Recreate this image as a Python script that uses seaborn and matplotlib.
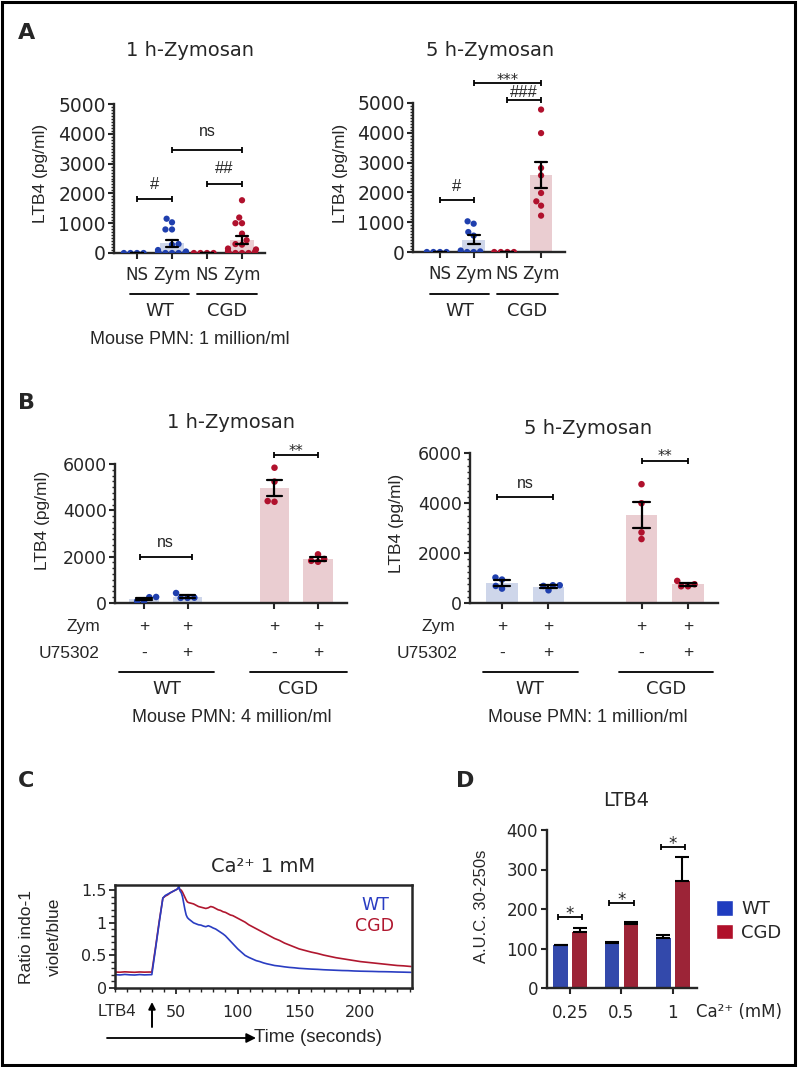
import warnings
warnings.filterwarnings("ignore")
import numpy as np
import pandas as pd
import matplotlib
matplotlib.use("Agg")
import matplotlib.pyplot as plt
import matplotlib.patches as mpatches
from matplotlib.ticker import MultipleLocator
import seaborn as sns

sns.set_style("ticks")
plt.rcParams["font.family"] = ["DejaVu Sans"]
SANS2 = ["Liberation Sans", "DejaVu Sans"]

# ---------------- data ----------------
# Panel A  (LTB4 pg/ml)  groups: WT-NS, WT-Zym, CGD-NS, CGD-Zym
a_labels = ["NS", "Zym", "NS", "Zym"]
a_geno = ["WT", "WT", "CGD", "CGD"]
a1h_wt_ns = [0, 0, 0, 0]
a1h_wt_zym = [1150, 1030, 790, 790, 300, 280, 100, 50, 20, 0, 0, 0, 0, 0]
a1h_cgd_ns = [0, 0, 0, 0]
a1h_cgd_zym = [1770, 1190, 1000, 1000, 650, 430, 300, 280, 150, 120, 60, 40, 0, 0, 0, 0]
a5h_wt_ns = [0, 0, 0, 0]
a5h_wt_zym = [1030, 950, 670, 550, 50, 20, 0, 0]
a5h_cgd_ns = [0, 0, 0, 0]
a5h_cgd_zym = [4780, 3990, 2820, 2570, 1980, 1700, 1555, 1220]

# Panel B
b_zym = ["+", "+", "+", "+"]
b_u75302 = ["-", "+", "-", "+"]
b_geno = ["WT", "WT", "CGD", "CGD"]
b1h_wt_minus = [260, 70, 80, 250]
b1h_wt_plus = [220, 220, 230, 430]
b1h_cgd_minus = [5840, 5240, 4370, 4400]
b1h_cgd_plus = [1900, 1780, 1820, 2100]
b5h_wt_minus = [1017, 937, 576, 683]
b5h_wt_plus = [710, 509, 683, 710]
b5h_cgd_minus = [4752, 3990, 2825, 2557]
b5h_cgd_plus = [750, 670, 670, 884]

# Panel C  (ratio indo-1 violet/blue vs time, s)
c_wt_time = [0, 4, 8, 12, 16, 20, 24, 28, 30, 33, 36, 39, 41, 43, 45, 47, 49, 50, 51, 52,
             53, 54, 55, 56, 57, 58, 59, 60, 62, 64, 66, 68, 70, 72, 74, 76, 78, 80, 82, 84,
             86, 88, 90, 92, 94, 96, 98, 100, 103, 106, 109, 112, 115, 118, 121, 124, 127,
             130, 134, 138, 142, 146, 150, 155, 160, 165, 170, 175, 180, 185, 190, 195, 200,
             205, 210, 215, 220, 225, 230, 235, 241]
c_wt_ratio = [0.205, 0.200, 0.208, 0.202, 0.199, 0.206, 0.201, 0.204, 0.205, 0.60, 1.00, 1.38,
              1.42, 1.44, 1.46, 1.48, 1.50, 1.51, 1.52, 1.57, 1.49, 1.46, 1.40, 1.30, 1.20,
              1.12, 1.08, 1.06, 1.03, 1.00, 0.985, 0.97, 0.965, 0.95, 0.94, 0.955, 0.94,
              0.92, 0.905, 0.88, 0.855, 0.83, 0.80, 0.76, 0.72, 0.68, 0.64, 0.60, 0.55, 0.50,
              0.47, 0.445, 0.42, 0.405, 0.385, 0.37, 0.358, 0.345, 0.336, 0.325, 0.316, 0.31,
              0.302, 0.296, 0.29, 0.286, 0.28, 0.276, 0.272, 0.268, 0.266, 0.261, 0.258,
              0.256, 0.254, 0.251, 0.25, 0.248, 0.245, 0.243, 0.24]
c_cgd_time = c_wt_time
c_cgd_ratio = [0.245, 0.242, 0.248, 0.244, 0.241, 0.246, 0.243, 0.245, 0.244, 0.62, 1.02, 1.38,
               1.41, 1.43, 1.46, 1.48, 1.50, 1.51, 1.52, 1.53, 1.51, 1.50, 1.47, 1.43, 1.39,
               1.35, 1.32, 1.31, 1.30, 1.29, 1.27, 1.25, 1.24, 1.23, 1.22, 1.23, 1.25, 1.24,
               1.22, 1.20, 1.19, 1.17, 1.16, 1.14, 1.12, 1.11, 1.09, 1.07, 1.04, 1.01, 0.97,
               0.94, 0.91, 0.88, 0.85, 0.82, 0.79, 0.76, 0.73, 0.69, 0.66, 0.63, 0.60, 0.575,
               0.55, 0.53, 0.505, 0.485, 0.465, 0.45, 0.435, 0.42, 0.405, 0.395, 0.385, 0.375,
               0.365, 0.355, 0.345, 0.34, 0.33]

# Panel D  (A.U.C. 30-250 s)
d_ca = ["0.25", "0.5", "1"]
d_wt_auc = [108, 115, 126]
d_wt_sem = [1.5, 1.5, 7]
d_cgd_auc = [143, 162, 270]
d_cgd_sem = [8, 6, 62]

# ---------------- style ----------------
DOT_BLUE, DOT_RED = "#1f3fae", "#b0112d"
BAR_BLUE, BAR_RED = "#c9d4ef", "#efc8cd"
C_BLUE, C_RED = "#2a3dc2", "#b0172f"
D_BLUE, D_RED = "#1f3cbf", "#b0102a"

W, H = 800, 1067
fig = plt.figure(figsize=(W / 100, H / 100), dpi=100)


def add_ax(x0, y0, x1, y1):
    a = fig.add_axes([x0 / W, 1 - y1 / H, (x1 - x0) / W, (y1 - y0) / H])
    a._pxbox = (x0, y0, x1, y1)
    return a


def yfrac(a, py):
    x0, y0, x1, y1 = a._pxbox
    return (y1 - py) / (y1 - y0)


def dotbar(ax, groups, positions, genos, dot=4.5):
    rows = []
    for vals, p, g in zip(groups, positions, genos):
        for v in vals:
            rows.append((p, g, v))
    df = pd.DataFrame(rows, columns=["pos", "geno", "val"])
    sns.barplot(data=df, x="pos", y="val", hue="geno", hue_order=["WT", "CGD"],
                palette={"WT": BAR_BLUE, "CGD": BAR_RED}, native_scale=True,
                width=0.67, errorbar="se", capsize=0.36,
                err_kws={"color": "black", "linewidth": 1.6},
                linewidth=0, legend=False, ax=ax)
    sns.swarmplot(data=df, x="pos", y="val", hue="geno", hue_order=["WT", "CGD"],
                  palette={"WT": DOT_BLUE, "CGD": DOT_RED}, native_scale=True,
                  size=dot, linewidth=0, legend=False, ax=ax, zorder=3)
    for ln in ax.lines:
        ln.set_zorder(4)
    ax.set_xlabel("")
    ax.set_ylabel("")


def bracket(ax, x0, x1, y, cap, label, ty, fs, family=None, dy=0.0):
    kw = dict(color="black", lw=1.3, clip_on=False, zorder=6, solid_capstyle="butt")
    ax.plot([x0, x1], [y, y], **kw)
    ax.plot([x0, x0], [y - cap, y + cap], **kw)
    ax.plot([x1, x1], [y - cap, y + cap], **kw)
    ax.annotate(label, xy=((x0 + x1) / 2, ty), xytext=(0, -dy), textcoords="offset points",
                ha="center", va="center", fontsize=fs, annotation_clip=False, zorder=6,
                family=family if family else "DejaVu Sans")


def style_dotbar(ax, xlim, ymax, ystep, minor, ylab_size):
    ax.set_xlim(*xlim)
    ax.set_ylim(0, ymax)
    ax.set_yticks(np.arange(0, ymax + 1, ystep))
    ax.yaxis.set_minor_locator(MultipleLocator(minor))
    sns.despine(ax=ax)
    for s in ["left", "bottom"]:
        ax.spines[s].set_linewidth(1.7)
    ax.tick_params(axis="y", which="major", length=4, width=1.5, labelsize=ylab_size, pad=2)
    ax.tick_params(axis="y", which="minor", length=2.2, width=1.0)
    ax.tick_params(axis="x", which="major", length=4.5, width=1.5, pad=5)
    ax.tick_params(axis="x", which="minor", bottom=False)


# ---------------- Panel A ----------------
posA = [0, 1, 2, 3]
axA1 = add_ax(114, 104, 265, 253)
dotbar(axA1, [a1h_wt_ns, a1h_wt_zym, a1h_cgd_ns, a1h_cgd_zym], posA, a_geno)
bracket(axA1, 0, 1, 1800, 100, "#", 2290, 12, SANS2)
bracket(axA1, 2, 3, 2320, 100, "##", 2845, 12, SANS2)
bracket(axA1, 1, 3, 3470, 100, "ns", 4070, 11.5, SANS2)
style_dotbar(axA1, (-0.657, 3.657), 5000, 1000, 100, 13.5)
axA1.set_xticks(posA, a_labels, fontsize=12)

axA2 = add_ax(413, 103, 565, 252)
dotbar(axA2, [a5h_wt_ns, a5h_wt_zym, a5h_cgd_ns, a5h_cgd_zym], posA, a_geno)
bracket(axA2, 0, 1, 1750, 100, "#", 2204, 12, SANS2)
bracket(axA2, 2, 3, 5112, 100, "###", 5336, 12, SANS2)
bracket(axA2, 1, 3, 5670, 100, "***", 5917, 10.5, None, dy=3.5)
style_dotbar(axA2, (-0.80, 3.71), 5000, 1000, 100, 13.5)
axA2.set_xticks(posA, a_labels, fontsize=12)

# ---------------- Panel B ----------------
posB = [0, 1, 3, 4]
axB1 = add_ax(115, 464, 347, 603)
dotbar(axB1, [b1h_wt_minus, b1h_wt_plus, b1h_cgd_minus, b1h_cgd_plus], posB, b_geno, dot=4.7)
bracket(axB1, -0.1, 1.1, 1990, 130, "ns", 2600, 11.5, SANS2)
bracket(axB1, 3, 4, 6390, 130, "**", 6750, 10.5, None, dy=3.5)
style_dotbar(axB1, (-0.667, 4.667), 6000, 2000, 250, 12.5)
axB1.set_xticks(posB, ["", "", "", ""])

axB2 = add_ax(470, 453, 718, 603)
dotbar(axB2, [b5h_wt_minus, b5h_wt_plus, b5h_cgd_minus, b5h_cgd_plus], posB, b_geno, dot=4.7)
bracket(axB2, -0.1, 1.1, 4257, 120, "ns", 4790, 11.5, SANS2)
bracket(axB2, 3, 4, 5690, 120, "**", 6064, 10.5, None, dy=3.5)
style_dotbar(axB2, (-0.688, 4.645), 6000, 2000, 250, 12.5)
axB2.set_xticks(posB, ["", "", "", ""])

for ax in (axB1, axB2):
    tr = ax.get_xaxis_transform()
    for p, z, u in zip(posB, b_zym, b_u75302):
        ax.text(p, yfrac(ax, 627), z, transform=tr, ha="center", va="center",
                fontsize=12.5, family=SANS2)
        ax.text(p, yfrac(ax, 653), u, transform=tr, ha="center", va="center",
                fontsize=12.5, family=SANS2)

# ---------------- Panel C ----------------
axC = add_ax(115, 885, 412, 988)
dfc = pd.concat([
    pd.DataFrame({"t": c_cgd_time, "r": c_cgd_ratio, "g": "CGD"}),
    pd.DataFrame({"t": c_wt_time, "r": c_wt_ratio, "g": "WT"}),
])
sns.lineplot(data=dfc, x="t", y="r", hue="g", hue_order=["CGD", "WT"],
             palette={"WT": C_BLUE, "CGD": C_RED}, linewidth=1.2, estimator=None,
             legend=False, ax=axC)
axC.set_xlabel("")
axC.set_ylabel("")
axC.set_xlim(0, 242)
axC.set_ylim(0, 1.58)
axC.set_xticks([50, 100, 150, 200])
axC.xaxis.set_minor_locator(MultipleLocator(10))
axC.set_yticks([0, 0.5, 1, 1.5], ["0", "0.5", "1", "1.5"])
axC.yaxis.set_minor_locator(MultipleLocator(0.1))
for s in axC.spines.values():
    s.set_linewidth(1.8)
axC.tick_params(axis="both", which="major", length=4, width=1.3, labelsize=11.5)
axC.tick_params(axis="both", which="minor", length=3, width=1.0)
axC.tick_params(axis="x", which="major", pad=8)
axC.tick_params(axis="y", which="major", pad=2)

# ---------------- Panel D ----------------
axD = add_ax(547, 830, 697, 988)
dfd = pd.DataFrame({"ca": d_ca + d_ca, "geno": ["WT"] * 3 + ["CGD"] * 3,
                    "auc": d_wt_auc + d_cgd_auc})
sns.barplot(data=dfd, x="ca", y="auc", hue="geno", order=d_ca, hue_order=["WT", "CGD"],
            palette={"WT": D_BLUE, "CGD": D_RED}, width=0.74, gap=0.24, errorbar=None,
            linewidth=0, legend=False, ax=axD)
for cont, errs in zip(axD.containers, [d_wt_sem, d_cgd_sem]):
    for bar, e in zip(cont, errs):
        xc = bar.get_x() + bar.get_width() / 2
        axD.errorbar(xc, bar.get_height(), yerr=[[0], [e]], fmt="none", ecolor="black",
                     elinewidth=1.5, capsize=5, capthick=1.5, zorder=4)
bracket(axD, -0.24, 0.24, 181, 7.6, "*", 202, 12, None, dy=4)
bracket(axD, 0.76, 1.24, 215, 7.6, "*", 236, 12, None, dy=4)
bracket(axD, 1.76, 2.24, 358, 7.6, "*", 379, 12, None, dy=4)
axD.set_xlabel("")
axD.set_ylabel("")
axD.set_xlim(-0.45, 2.47)
axD.set_ylim(0, 400)
axD.set_yticks([0, 100, 200, 300, 400])
sns.despine(ax=axD)
for s in ["left", "bottom"]:
    axD.spines[s].set_linewidth(1.7)
axD.tick_params(axis="both", which="major", length=4.5, width=1.5, labelsize=12)
axD.tick_params(axis="x", pad=7)
axD.tick_params(axis="y", pad=2)

fig.legend(handles=[mpatches.Patch(facecolor=D_BLUE, label="WT"),
                    mpatches.Patch(facecolor=D_RED, label="CGD")],
           loc="center left", bbox_to_anchor=(716 / W, 1 - 921 / H), frameon=False,
           fontsize=13, handlelength=0.95, handleheight=0.95, handletextpad=0.45,
           labelspacing=0.3, borderpad=0, borderaxespad=0)

# ---------------- overlay annotations (pixel coordinates) ----------------
ov = fig.add_axes([0, 0, 1, 1])
ov.set_xlim(0, W)
ov.set_ylim(H, 0)
ov.axis("off")
ov.patch.set_alpha(0)


def t(x, y, s, fs, **kw):
    kw.setdefault("ha", "center")
    kw.setdefault("va", "center")
    ov.text(x, y, s, fontsize=fs, **kw)


for lab, x, y in [("A", 27, 33), ("B", 27, 403), ("C", 26, 781), ("D", 465, 781)]:
    t(x, y, lab, 16, weight="bold")

t(190, 50, "1 h-Zymosan", 14)
t(490, 50, "5 h-Zymosan", 14)
t(231, 423, "1 h-Zymosan", 14)
t(588, 428, "5 h-Zymosan", 14)
t(263, 866, "Ca²⁺ 1 mM", 14)
t(626, 801, "LTB4", 14)

for x, y in [(40, 173), (340, 173), (42, 520), (397, 523)]:
    t(x, y, "LTB4 (pg/ml)", 12.5, family=SANS2, rotation=90)
t(27, 937, "Ratio indo-1", 12.5, family=SANS2, rotation=90)
t(54, 937, "violet/blue", 12.5, family=SANS2, rotation=90)
t(482, 906, "A.U.C. 30-250s", 12, family=SANS2, rotation=90)

lkw = dict(color="black", lw=1.3)
for x0, x1 in [(130, 189), (197, 257), (430, 489), (497, 558)]:
    ov.plot([x0, x1], [294, 294], **lkw)
for x, s in [(160, "WT"), (227, "CGD"), (460, "WT"), (527, "CGD")]:
    t(x, 311, s, 13)
t(190, 340, "Mouse PMN: 1 million/ml", 13, family=SANS2)

t(100, 627, "Zym", 12.5, family=SANS2, ha="right")
t(100, 653, "U75302", 12.5, family=SANS2, ha="right")
t(455, 627, "Zym", 12.5, family=SANS2, ha="right")
t(457, 653, "U75302", 12.5, family=SANS2, ha="right")
for x0, x1 in [(119, 214), (250, 347), (483, 578), (619, 713)]:
    ov.plot([x0, x1], [672, 672], **lkw)
for x, s in [(167, "WT"), (298, "CGD"), (530, "WT"), (666, "CGD")]:
    t(x, 689, s, 13)
t(232, 718, "Mouse PMN: 4 million/ml", 13, family=SANS2)
t(588, 718, "Mouse PMN: 1 million/ml", 13, family=SANS2)

t(117, 1012, "LTB4", 12, family=SANS2)
ov.annotate("", xy=(152, 1002), xytext=(152, 1027),
            arrowprops=dict(arrowstyle="-|>", lw=1.4, color="black", mutation_scale=10,
                            shrinkA=0, shrinkB=0))
ov.annotate("", xy=(256, 1038), xytext=(107, 1038),
            arrowprops=dict(arrowstyle="-|>", lw=1.3, color="black", mutation_scale=14,
                            shrinkA=0, shrinkB=0))
t(318, 1038, "Time (seconds)", 13.5, family=SANS2)
t(375, 905, "WT", 12.5, color=C_BLUE)
t(375, 926, "CGD", 12.5, color=C_RED)
t(739, 1012, "Ca²⁺ (mM)", 12)

ov.add_patch(mpatches.Rectangle((1.5, 1.5), 793, 1063, fill=False, lw=2.2, ec="black"))

fig.savefig("out.png", dpi=100)
